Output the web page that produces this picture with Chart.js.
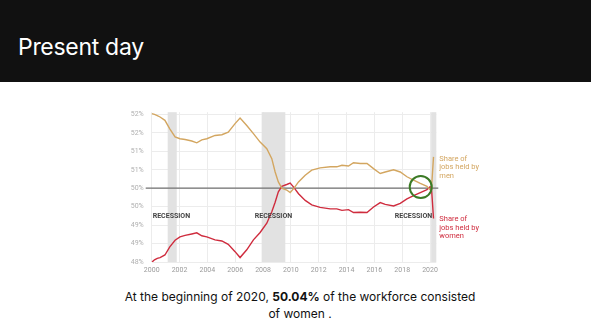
<!DOCTYPE html>
<html>
<head>
<meta charset="utf-8">
<script src="https://cdn.jsdelivr.net/npm/chart.js@4/dist/chart.umd.min.js"></script>
<style>
  html, body { margin: 0; padding: 0; width: 591px; height: 332px; background: #fff; overflow: hidden; }
  #header { position: absolute; left: 0; top: 0; width: 591px; height: 82px; background: #111; }
  #header h1 { position: absolute; left: 18px; top: 33px; margin: 0; font: 400 23px Inter, sans-serif; color: #fff; letter-spacing: -0.3px; }
  #chartBox { position: absolute; left: 120px; top: 100px; width: 370px; height: 180px; }
  #caption { position: absolute; left: 0; top: 288px; width: 600px; text-align: center; font: 400 12px Inter, sans-serif; color: #111; line-height: 17px; }
</style>
</head>
<body>
<div id="header"><h1>Present day</h1></div>
<div id="chartBox"><canvas id="c" width="370" height="180"></canvas></div>
<div id="caption">At the beginning of 2020, <b>50.04%</b> of the workforce consisted<br>of women .</div>
<script>
// decimal years
var years = [2000.0, 2000.2, 2000.4, 2000.6, 2000.95, 2001.3, 2001.68, 2002.03, 2002.4, 2002.88,
  2003.24, 2003.6, 2003.96, 2004.55, 2005.04, 2005.5, 2005.99, 2006.35, 2006.83, 2007.31,
  2007.79, 2008.27, 2008.63, 2008.87, 2009.1, 2009.35, 2009.7, 2009.95, 2010.2, 2010.55,
  2011.03, 2011.5, 2012.1, 2012.83, 2013.3, 2013.67, 2014.14, 2014.5, 2014.99, 2015.47,
  2015.94, 2016.42, 2016.78, 2017.38, 2017.86, 2018.34, 2018.82, 2019.3, 2019.78, 2020.0,
  2020.1, 2020.25];

var menShare = [52.02, 52.0, 51.97, 51.93, 51.84, 51.61, 51.39, 51.34, 51.32, 51.28,
  51.23, 51.31, 51.34, 51.43, 51.45, 51.52, 51.75, 51.9, 51.7, 51.48,
  51.25, 51.07, 50.8, 50.44, 50.17, 50.0, 49.95, 49.88, 49.99, 50.17,
  50.35, 50.49, 50.55, 50.58, 50.58, 50.62, 50.6, 50.69, 50.67, 50.67,
  50.53, 50.4, 50.44, 50.5, 50.44, 50.31, 50.22, 50.13, 50.05, 49.96,
  49.97, 50.85];

var womenShare = [47.99, 48.06, 48.1, 48.12, 48.19, 48.41, 48.59, 48.68, 48.72, 48.76,
  48.79, 48.71, 48.68, 48.6, 48.57, 48.48, 48.28, 48.12, 48.33, 48.6,
  48.8, 49.05, 49.36, 49.62, 49.9, 50.05, 50.1, 50.14, 50.03, 49.85,
  49.67, 49.55, 49.48, 49.44, 49.44, 49.4, 49.42, 49.34, 49.35, 49.34,
  49.49, 49.61, 49.56, 49.52, 49.59, 49.71, 49.8, 49.88, 49.96, 50.04,
  50.03, 49.18];

var xTicks = [2000, 2002, 2004, 2006, 2008, 2010, 2012, 2014, 2016, 2018, 2020];
var yTicks = [48, 48.5, 49, 49.5, 50, 50.5, 51, 51.5, 52];

// recession periods [start, end]
var recessions = [[2001.15, 2001.8], [2007.9, 2009.6], [2020.08, 2020.45]];

var MEN = '#d3a660';
var WOMEN = '#cf2c3e';
var tickFont = { family: 'Roboto', size: 7 };

var overlay = {
    id: 'overlay',
    beforeDatasetsDraw: function (chart) {
        var c = chart.ctx, a = chart.chartArea,
            x = chart.scales.x, y = chart.scales.y;
        c.save();
        c.fillStyle = '#e2e2e2';
        recessions.forEach(function (r) {
            var x0 = x.getPixelForValue(r[0]), x1 = Math.min(x.getPixelForValue(r[1]), a.right);
            c.fillRect(x0, a.top, x1 - x0, a.bottom - a.top);
        });
        // 50% reference line
        var y50 = y.getPixelForValue(50);
        c.strokeStyle = '#707070';
        c.lineWidth = 1.3;
        c.beginPath();
        c.moveTo(a.left - 6, y50);
        c.lineTo(a.right + 2, y50);
        c.stroke();
        c.restore();
    },
    afterDatasetsDraw: function (chart) {
        var c = chart.ctx, a = chart.chartArea,
            x = chart.scales.x, y = chart.scales.y;
        c.save();
        // recession labels
        c.font = 'bold 7px Roboto';
        c.fillStyle = '#444';
        c.textBaseline = 'middle';
        var ly = y.getPixelForValue(49.25);
        c.textAlign = 'left';
        c.fillText('RECESSION', a.left + 1, ly);
        c.textAlign = 'center';
        c.fillText('RECESSION', x.getPixelForValue((recessions[1][0] + recessions[1][1]) / 2), ly);
        c.textAlign = 'right';
        c.fillText('RECESSION', x.getPixelForValue(recessions[2][0]) + 1, ly);

        // green circle
        c.strokeStyle = '#3b7a25';
        c.lineWidth = 2;
        c.beginPath();
        c.arc(x.getPixelForValue(2019.33), y.getPixelForValue(50.03), 11, 0, Math.PI * 2);
        c.stroke();

        // series labels
        c.font = '7.5px Roboto';
        c.textAlign = 'left';
        var tx = a.right + 3;
        c.fillStyle = MEN;
        ['Share of', 'jobs held by', 'men'].forEach(function (t, i) {
            c.fillText(t, tx, y.getPixelForValue(50.8) + i * 8.5);
        });
        c.fillStyle = WOMEN;
        ['Share of', 'jobs held by', 'women'].forEach(function (t, i) {
            c.fillText(t, tx, y.getPixelForValue(49.15) + i * 8.5);
        });
        c.restore();
    }
};

function series(vals) {
    return years.map(function (yr, i) { return { x: yr, y: vals[i] }; });
}

new Chart(document.getElementById('c').getContext('2d'), {
    type: 'line',
    data: {
        datasets: [
            { label: 'Men', data: series(menShare), borderColor: MEN, borderWidth: 1.4, pointRadius: 0, tension: 0 },
            { label: 'Women', data: series(womenShare), borderColor: WOMEN, borderWidth: 1.4, pointRadius: 0, tension: 0 }
        ]
    },
    options: {
        responsive: false,
        animation: false,
        layout: { padding: { top: 11.8, right: 53.7, left: 0, bottom: 0 } },
        plugins: { legend: { display: false }, tooltip: { enabled: false } },
        scales: {
            x: {
                type: 'linear', min: 2000, max: 2020.45,
                afterBuildTicks: function (s) { s.ticks = xTicks.map(function (v) { return { value: v }; }); },
                afterFit: function (s) { s.height = 18; },
                grid: { color: '#ececec', drawTicks: false },
                border: { display: false },
                ticks: { font: tickFont, color: '#9a9a9a', padding: 4, maxRotation: 0,
                    callback: function (v) { return String(v); } }
            },
            y: {
                min: 48, max: 52.06,
                afterBuildTicks: function (s) { s.ticks = yTicks.map(function (v) { return { value: v }; }); },
                afterFit: function (s) { s.width = 31.7; },
                grid: { color: '#ececec', drawTicks: false },
                border: { display: false },
                ticks: { font: tickFont, color: '#b0b0b0', padding: 8,
                    callback: function (v) { return Math.round(v) + '%'; } }
            }
        }
    },
    plugins: [overlay]
});
</script>
</body>
</html>
